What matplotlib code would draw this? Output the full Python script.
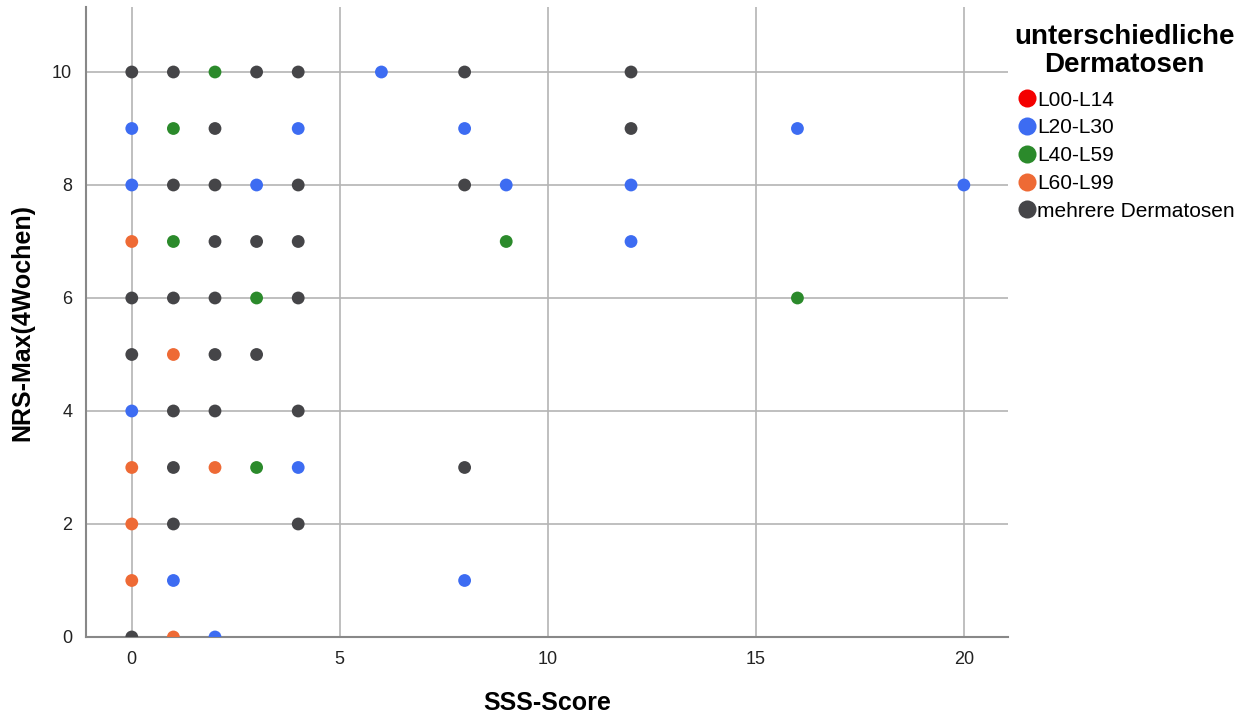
import matplotlib.pyplot as plt
from matplotlib.lines import Line2D

plt.rcParams['font.family'] = ['Liberation Sans', 'DejaVu Sans']

# Gruppen und Farben
groups = ['L00-L14', 'L20-L30', 'L40-L59', 'L60-L99', 'mehrere Dermatosen']
colors = ['#f40000', '#3d6cf2', '#2b8a2b', '#ee6a35', '#454548']

# SSS-Score / NRS-Max je Gruppe
l00_x, l00_y = [], []
l20_x = [6, 0, 4, 8, 16, 0, 3, 9, 12, 20, 12, 0, 4, 1, 8, 2]
l20_y = [10, 9, 9, 9, 9, 8, 8, 8, 8, 8, 7, 4, 3, 1, 1, 0]
l40_x = [2, 1, 1, 9, 3, 16, 3]
l40_y = [10, 9, 7, 7, 6, 6, 3]
l60_x = [0, 1, 0, 2, 0, 0, 1]
l60_y = [7, 5, 3, 3, 2, 1, 0]
mix_x = [0, 1, 3, 4, 8, 12, 2, 12, 1, 2, 4, 8, 2, 3, 4, 0, 1, 2, 4,
         0, 2, 3, 1, 2, 4, 1, 8, 1, 4, 0]
mix_y = [10, 10, 10, 10, 10, 10, 9, 9, 8, 8, 8, 8, 7, 7, 7, 6, 6, 6, 6,
         5, 5, 5, 4, 4, 4, 3, 3, 2, 2, 0]

series = [(l00_x, l00_y), (l20_x, l20_y), (l40_x, l40_y),
          (l60_x, l60_y), (mix_x, mix_y)]

fig = plt.figure(figsize=(12.45, 7.17), dpi=100)
ax = fig.add_axes([0.0691, 0.1116, 0.7405, 0.8786])

for (xs, ys), c in zip(series, colors):
    ax.scatter(xs, ys, s=85, color=c, edgecolors='none', zorder=3)

ax.set_xlim(-1.1, 21.06)
ax.set_ylim(0, 11.15)
ax.set_xticks([0, 5, 10, 15, 20])
ax.set_yticks([0, 2, 4, 6, 8, 10])
ax.grid(True, color='#b4b4b4', linewidth=1.2, zorder=0)
ax.tick_params(length=0, labelsize=13, colors='#222222', pad=10)

for side in ['top', 'right']:
    ax.spines[side].set_visible(False)
for side in ['left', 'bottom']:
    ax.spines[side].set_color('#888888')
    ax.spines[side].set_linewidth(1.5)

ax.set_xlabel('SSS-Score', fontsize=18, fontweight='bold', labelpad=17)
ax.set_ylabel('NRS-Max(4Wochen)', fontsize=18, fontweight='bold', labelpad=13)

handles = [Line2D([], [], marker='o', linestyle='none', markersize=13,
                  markerfacecolor=c, markeredgecolor='none') for c in colors]
leg = fig.legend(handles, groups, loc='upper left', bbox_to_anchor=(0.808, 0.978),
                 frameon=False, fontsize=15, handletextpad=-0.1, labelspacing=0.42,
                 handlelength=1.2, borderaxespad=0,
                 title='unterschiedliche\nDermatosen')
leg.get_title().set_fontsize(20)
leg.get_title().set_fontweight('bold')
leg.get_title().set_multialignment('center')
leg.get_title().set_linespacing(1.1)
leg._legend_box.sep = 9

fig.savefig('out.png', dpi=100)
